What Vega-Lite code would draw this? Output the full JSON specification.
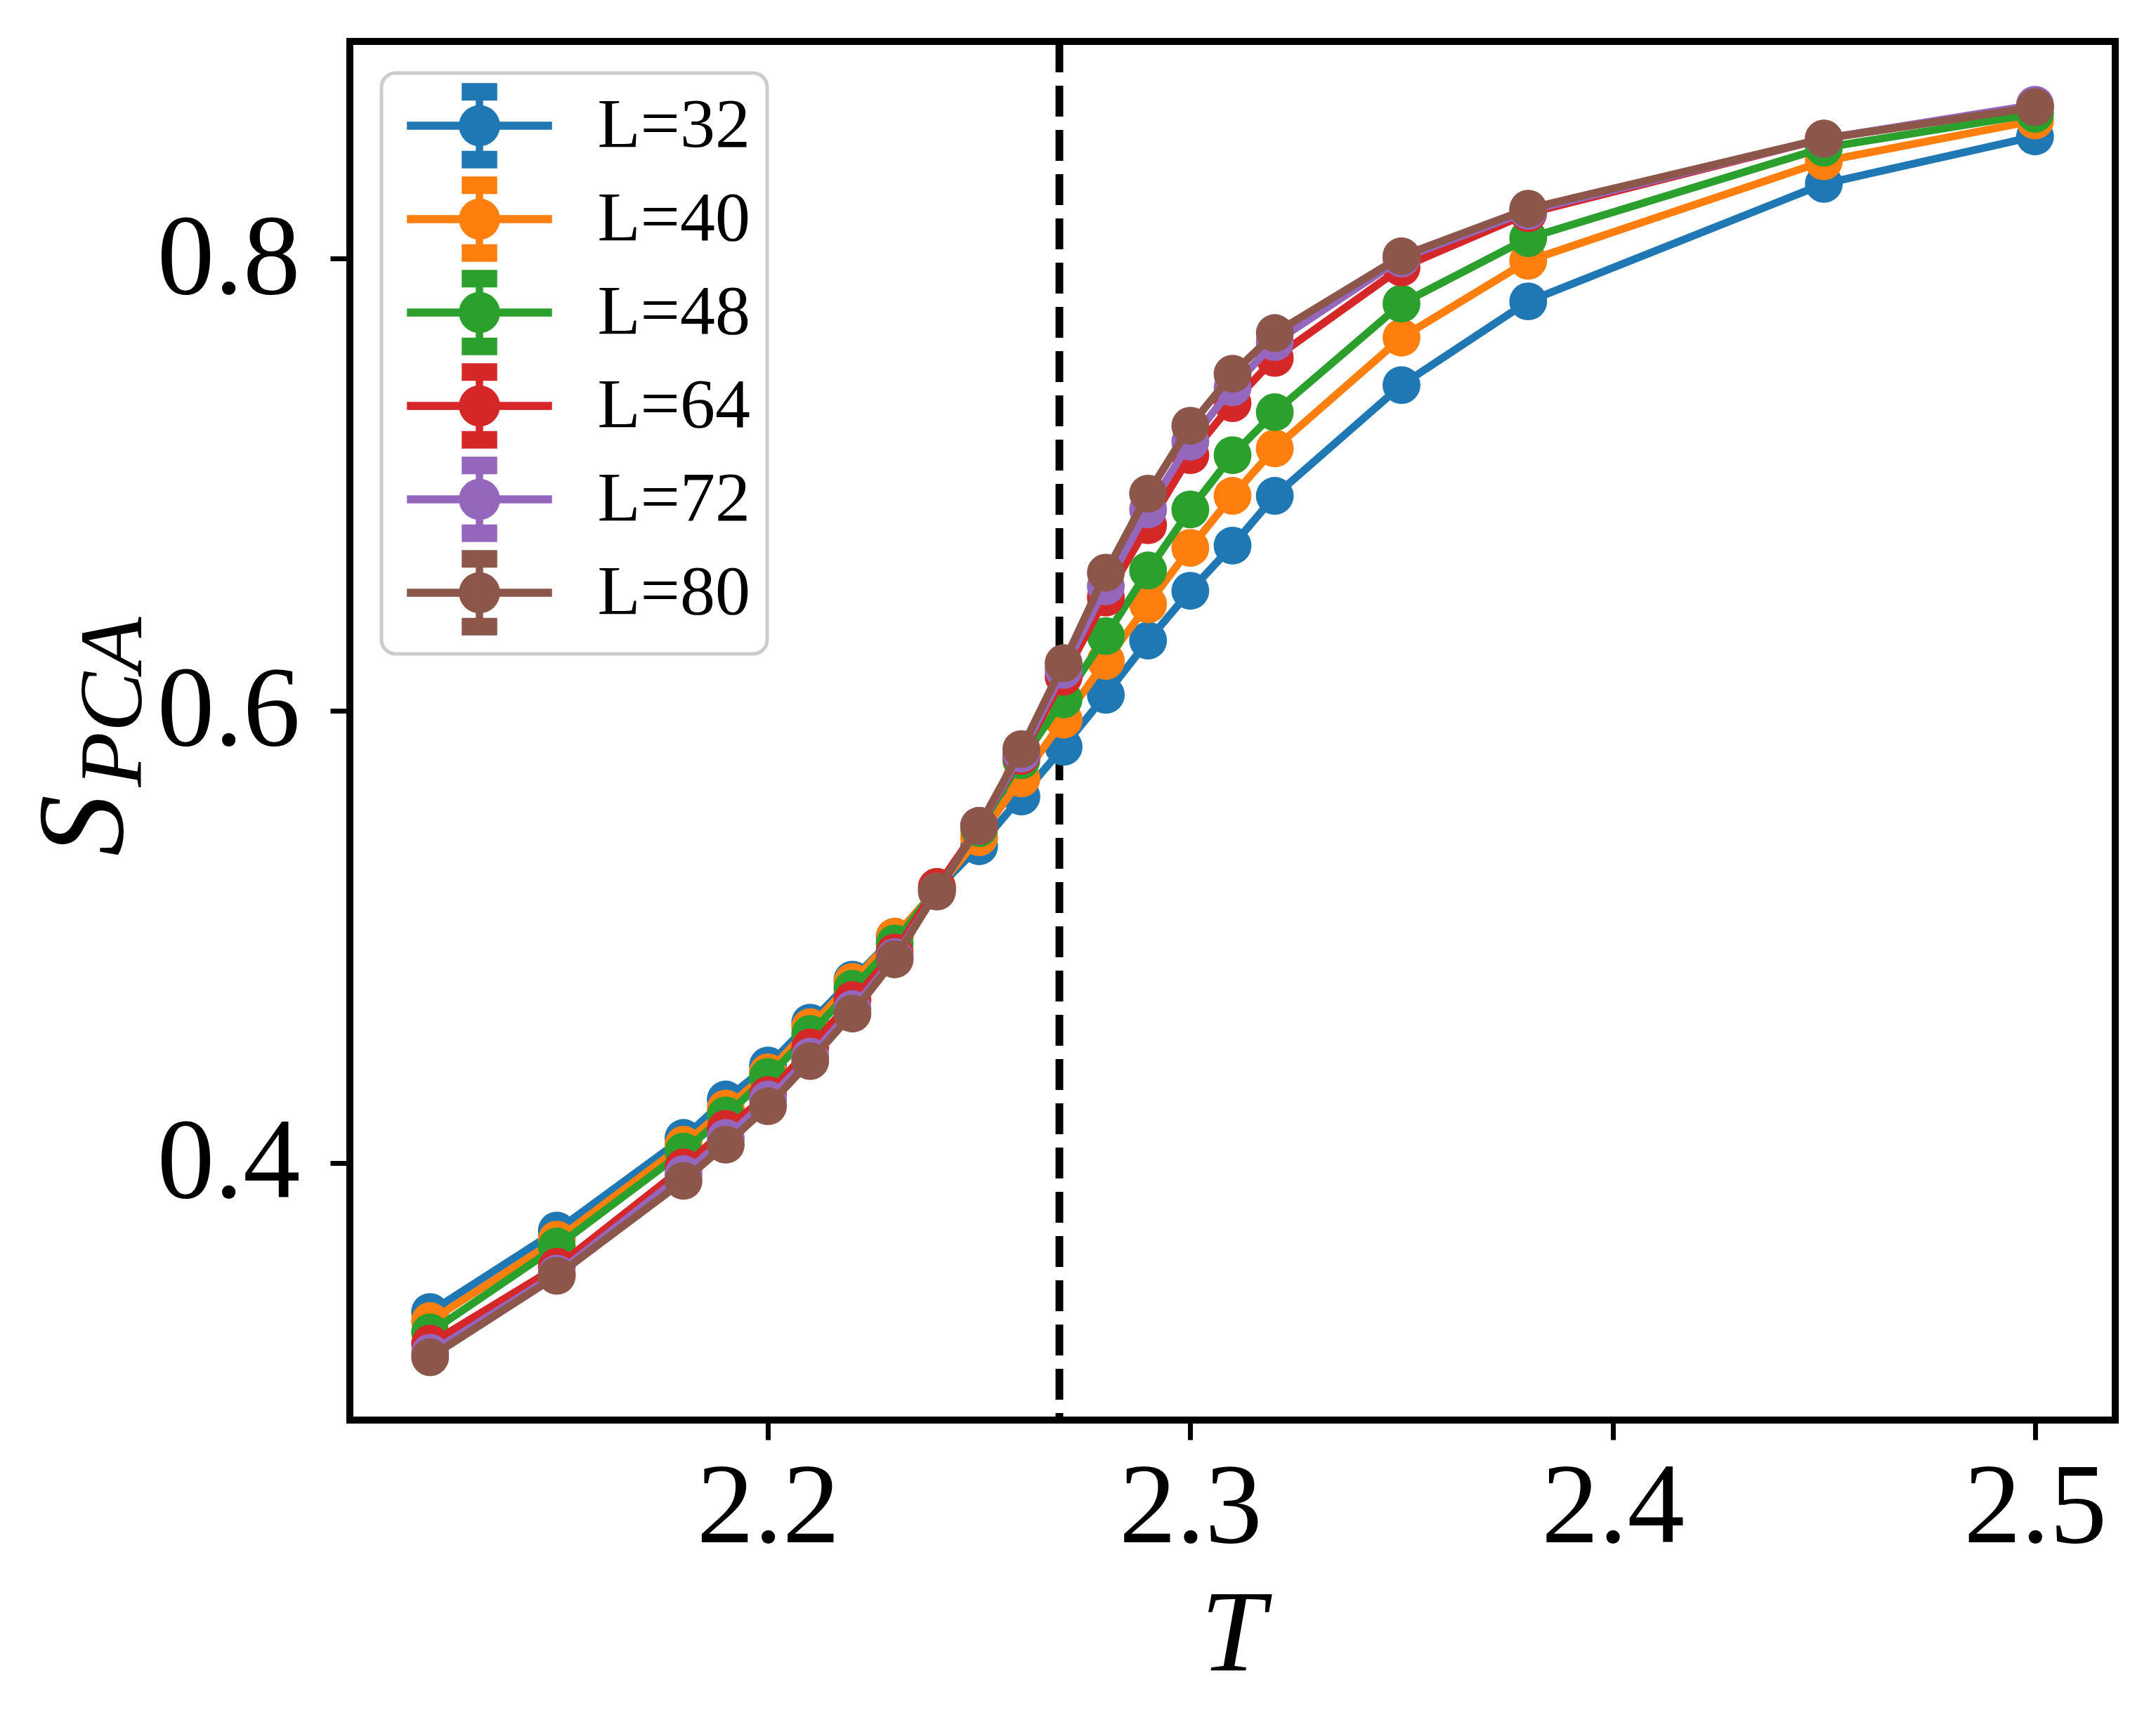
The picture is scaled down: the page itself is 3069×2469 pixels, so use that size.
{
  "$schema": "https://vega.github.io/schema/vega-lite/v6.json",
  "width": 2513,
  "height": 1963,
  "autosize": {"type": "none"},
  "padding": {"left": 498, "top": 59, "right": 58, "bottom": 447},
  "background": "white",
  "data": {
    "values": [
      {"T": 2.12, "L": "L=32", "S": 0.334}, {"T": 2.15, "L": "L=32", "S": 0.370}, {"T": 2.18, "L": "L=32", "S": 0.411},
      {"T": 2.19, "L": "L=32", "S": 0.428}, {"T": 2.20, "L": "L=32", "S": 0.443}, {"T": 2.21, "L": "L=32", "S": 0.462},
      {"T": 2.22, "L": "L=32", "S": 0.481}, {"T": 2.23, "L": "L=32", "S": 0.500}, {"T": 2.24, "L": "L=32", "S": 0.521},
      {"T": 2.25, "L": "L=32", "S": 0.540}, {"T": 2.26, "L": "L=32", "S": 0.562}, {"T": 2.27, "L": "L=32", "S": 0.584},
      {"T": 2.28, "L": "L=32", "S": 0.607}, {"T": 2.29, "L": "L=32", "S": 0.631}, {"T": 2.30, "L": "L=32", "S": 0.653},
      {"T": 2.31, "L": "L=32", "S": 0.673}, {"T": 2.32, "L": "L=32", "S": 0.695}, {"T": 2.35, "L": "L=32", "S": 0.744},
      {"T": 2.38, "L": "L=32", "S": 0.781}, {"T": 2.45, "L": "L=32", "S": 0.833}, {"T": 2.50, "L": "L=32", "S": 0.854},

      {"T": 2.12, "L": "L=40", "S": 0.330}, {"T": 2.15, "L": "L=40", "S": 0.366}, {"T": 2.18, "L": "L=40", "S": 0.408},
      {"T": 2.19, "L": "L=40", "S": 0.424}, {"T": 2.20, "L": "L=40", "S": 0.440}, {"T": 2.21, "L": "L=40", "S": 0.460},
      {"T": 2.22, "L": "L=40", "S": 0.480}, {"T": 2.23, "L": "L=40", "S": 0.500}, {"T": 2.24, "L": "L=40", "S": 0.521},
      {"T": 2.25, "L": "L=40", "S": 0.544}, {"T": 2.26, "L": "L=40", "S": 0.570}, {"T": 2.27, "L": "L=40", "S": 0.596},
      {"T": 2.28, "L": "L=40", "S": 0.622}, {"T": 2.29, "L": "L=40", "S": 0.647}, {"T": 2.30, "L": "L=40", "S": 0.672},
      {"T": 2.31, "L": "L=40", "S": 0.695}, {"T": 2.32, "L": "L=40", "S": 0.716}, {"T": 2.35, "L": "L=40", "S": 0.765},
      {"T": 2.38, "L": "L=40", "S": 0.799}, {"T": 2.45, "L": "L=40", "S": 0.843}, {"T": 2.50, "L": "L=40", "S": 0.861},

      {"T": 2.12, "L": "L=48", "S": 0.325}, {"T": 2.15, "L": "L=48", "S": 0.363}, {"T": 2.18, "L": "L=48", "S": 0.405},
      {"T": 2.19, "L": "L=48", "S": 0.421}, {"T": 2.20, "L": "L=48", "S": 0.438}, {"T": 2.21, "L": "L=48", "S": 0.457},
      {"T": 2.22, "L": "L=48", "S": 0.477}, {"T": 2.23, "L": "L=48", "S": 0.497}, {"T": 2.24, "L": "L=48", "S": 0.522},
      {"T": 2.25, "L": "L=48", "S": 0.548}, {"T": 2.26, "L": "L=48", "S": 0.578}, {"T": 2.27, "L": "L=48", "S": 0.605},
      {"T": 2.28, "L": "L=48", "S": 0.633}, {"T": 2.29, "L": "L=48", "S": 0.662}, {"T": 2.30, "L": "L=48", "S": 0.689},
      {"T": 2.31, "L": "L=48", "S": 0.713}, {"T": 2.32, "L": "L=48", "S": 0.732}, {"T": 2.35, "L": "L=48", "S": 0.780},
      {"T": 2.38, "L": "L=48", "S": 0.809}, {"T": 2.45, "L": "L=48", "S": 0.849}, {"T": 2.50, "L": "L=48", "S": 0.864},

      {"T": 2.12, "L": "L=64", "S": 0.320}, {"T": 2.15, "L": "L=64", "S": 0.354}, {"T": 2.18, "L": "L=64", "S": 0.398},
      {"T": 2.19, "L": "L=64", "S": 0.415}, {"T": 2.20, "L": "L=64", "S": 0.430}, {"T": 2.21, "L": "L=64", "S": 0.451},
      {"T": 2.22, "L": "L=64", "S": 0.472}, {"T": 2.23, "L": "L=64", "S": 0.493}, {"T": 2.24, "L": "L=64", "S": 0.522},
      {"T": 2.25, "L": "L=64", "S": 0.549}, {"T": 2.26, "L": "L=64", "S": 0.580}, {"T": 2.27, "L": "L=64", "S": 0.615},
      {"T": 2.28, "L": "L=64", "S": 0.650}, {"T": 2.29, "L": "L=64", "S": 0.682}, {"T": 2.30, "L": "L=64", "S": 0.713},
      {"T": 2.31, "L": "L=64", "S": 0.736}, {"T": 2.32, "L": "L=64", "S": 0.756}, {"T": 2.35, "L": "L=64", "S": 0.796},
      {"T": 2.38, "L": "L=64", "S": 0.820}, {"T": 2.45, "L": "L=64", "S": 0.853}, {"T": 2.50, "L": "L=64", "S": 0.867},

      {"T": 2.12, "L": "L=72", "S": 0.316}, {"T": 2.15, "L": "L=72", "S": 0.351}, {"T": 2.18, "L": "L=72", "S": 0.395},
      {"T": 2.19, "L": "L=72", "S": 0.411}, {"T": 2.20, "L": "L=72", "S": 0.428}, {"T": 2.21, "L": "L=72", "S": 0.447},
      {"T": 2.22, "L": "L=72", "S": 0.468}, {"T": 2.23, "L": "L=72", "S": 0.491}, {"T": 2.24, "L": "L=72", "S": 0.520},
      {"T": 2.25, "L": "L=72", "S": 0.549}, {"T": 2.26, "L": "L=72", "S": 0.581}, {"T": 2.27, "L": "L=72", "S": 0.618},
      {"T": 2.28, "L": "L=72", "S": 0.655}, {"T": 2.29, "L": "L=72", "S": 0.689}, {"T": 2.30, "L": "L=72", "S": 0.719},
      {"T": 2.31, "L": "L=72", "S": 0.743}, {"T": 2.32, "L": "L=72", "S": 0.763}, {"T": 2.35, "L": "L=72", "S": 0.800},
      {"T": 2.38, "L": "L=72", "S": 0.821}, {"T": 2.45, "L": "L=72", "S": 0.853}, {"T": 2.50, "L": "L=72", "S": 0.868},

      {"T": 2.12, "L": "L=80", "S": 0.314}, {"T": 2.15, "L": "L=80", "S": 0.350}, {"T": 2.18, "L": "L=80", "S": 0.392},
      {"T": 2.19, "L": "L=80", "S": 0.408}, {"T": 2.20, "L": "L=80", "S": 0.425}, {"T": 2.21, "L": "L=80", "S": 0.445},
      {"T": 2.22, "L": "L=80", "S": 0.466}, {"T": 2.23, "L": "L=80", "S": 0.490}, {"T": 2.24, "L": "L=80", "S": 0.520},
      {"T": 2.25, "L": "L=80", "S": 0.549}, {"T": 2.26, "L": "L=80", "S": 0.583}, {"T": 2.27, "L": "L=80", "S": 0.621},
      {"T": 2.28, "L": "L=80", "S": 0.661}, {"T": 2.29, "L": "L=80", "S": 0.696}, {"T": 2.30, "L": "L=80", "S": 0.726},
      {"T": 2.31, "L": "L=80", "S": 0.749}, {"T": 2.32, "L": "L=80", "S": 0.767}, {"T": 2.35, "L": "L=80", "S": 0.801},
      {"T": 2.38, "L": "L=80", "S": 0.822}, {"T": 2.45, "L": "L=80", "S": 0.853}, {"T": 2.50, "L": "L=80", "S": 0.867}
    ]
  },
  "encoding": {
    "x": {
      "field": "T", "type": "quantitative",
      "scale": {"domain": [2.101, 2.519], "nice": false, "zero": false},
      "axis": {
        "title": "T", "values": [2.2, 2.3, 2.4, 2.5], "format": ".1f",
        "titleFontStyle": "italic", "titleFontSize": 165, "titleY": 355, "titleBaseline": "alphabetic",
        "labelFontSize": 163, "labelPadding": 16
      }
    },
    "color": {
      "field": "L", "type": "nominal",
      "scale": {
        "domain": ["L=32", "L=40", "L=48", "L=64", "L=72", "L=80"],
        "range": ["#1f77b4", "#ff7f0e", "#2ca02c", "#d62728", "#9467bd", "#8c564b"]
      },
      "legend": {
        "title": null, "orient": "top-left", "offset": 45, "padding": 24,
        "symbolType": "M-2.05,-0.1L2.05,-0.1L2.05,0.1L-2.05,0.1Z M-0.09,-1.2L0.09,-1.2L0.09,1.2L-0.09,1.2Z M-0.49,-1.2L0.49,-1.2L0.49,-0.73L-0.49,-0.73Z M-0.49,0.73L0.49,0.73L0.49,1.2L-0.49,1.2Z M0.57,0A0.57,0.57,0,1,1,-0.57,0A0.57,0.57,0,1,1,0.57,0Z",
        "symbolSize": 10000, "symbolOffset": 64.5, "labelOffset": 117,
        "labelFontSize": 100, "labelLimit": 1000, "rowPadding": 7,
        "strokeColor": "#cccccc", "cornerRadius": 20, "fillColor": "rgba(255,255,255,0.8)",
        "encode": {
          "legend": {
            "update": {"strokeWidth": {"value": 5}}
          },
          "symbols": {
            "update": {
              "fill": {"scale": "color", "field": "value"},
              "stroke": {"value": "transparent"},
              "opacity": {"value": 1}
            }
          }
        }
      }
    }
  },
  "layer": [
    {
      "data": {"values": [{"T": 2.269}]},
      "mark": {"type": "rule", "color": "black", "strokeWidth": 11, "strokeDash": [44, 19]},
      "encoding": {"color": {"value": "black"}}
    },
    {
      "transform": [{"filter": "datum.L === 'L=32'"}],
      "mark": {"type": "line", "strokeWidth": 11, "point": {"filled": true, "size": 2900, "opacity": 1}},
      "encoding": {
        "y": {
          "field": "S", "type": "quantitative",
          "scale": {"domain": [0.2862, 0.896], "nice": false, "zero": false},
          "axis": {
            "orient": "left", "values": [0.4, 0.6, 0.8], "format": ".1f",
            "labelFontSize": 163, "labelPadding": 43,
            "title": "S", "titleFontStyle": "italic", "titleFontSize": 175,
            "titleAngle": 270, "titleAlign": "center", "titleBaseline": "alphabetic",
            "titleX": -325, "titleY": 1116
          }
        }
      }
    },
    {
      "transform": [{"filter": "datum.L === 'L=40'"}],
      "mark": {"type": "line", "strokeWidth": 11, "point": {"filled": true, "size": 2900, "opacity": 1}},
      "encoding": {
        "y": {
          "field": "S", "type": "quantitative",
          "scale": {"domain": [0.2862, 0.896], "nice": false, "zero": false},
          "axis": {
            "orient": "left", "labels": false, "ticks": false, "domain": false, "grid": false,
            "title": "PCA", "titleFontStyle": "italic", "titleFontSize": 128,
            "titleAngle": 270, "titleAlign": "center", "titleBaseline": "alphabetic",
            "titleX": -298, "titleY": 940
          }
        }
      }
    },
    {
      "transform": [{"filter": "datum.L === 'L=48'"}],
      "mark": {"type": "line", "strokeWidth": 11, "point": {"filled": true, "size": 2900, "opacity": 1}},
      "encoding": {
        "y": {"field": "S", "type": "quantitative", "scale": {"domain": [0.2862, 0.896], "nice": false, "zero": false}, "axis": null}
      }
    },
    {
      "transform": [{"filter": "datum.L === 'L=64'"}],
      "mark": {"type": "line", "strokeWidth": 11, "point": {"filled": true, "size": 2900, "opacity": 1}},
      "encoding": {
        "y": {"field": "S", "type": "quantitative", "scale": {"domain": [0.2862, 0.896], "nice": false, "zero": false}, "axis": null}
      }
    },
    {
      "transform": [{"filter": "datum.L === 'L=72'"}],
      "mark": {"type": "line", "strokeWidth": 11, "point": {"filled": true, "size": 2900, "opacity": 1}},
      "encoding": {
        "y": {"field": "S", "type": "quantitative", "scale": {"domain": [0.2862, 0.896], "nice": false, "zero": false}, "axis": null}
      }
    },
    {
      "transform": [{"filter": "datum.L === 'L=80'"}],
      "mark": {"type": "line", "strokeWidth": 11, "point": {"filled": true, "size": 2900, "opacity": 1}},
      "encoding": {
        "y": {"field": "S", "type": "quantitative", "scale": {"domain": [0.2862, 0.896], "nice": false, "zero": false}, "axis": null}
      }
    }
  ],
  "resolve": {"axis": {"y": "independent"}},
  "config": {
    "font": "Liberation Serif",
    "view": {"stroke": "black", "strokeWidth": 10},
    "axis": {
      "grid": false, "domain": false,
      "tickSize": 28, "tickWidth": 7, "tickColor": "black",
      "labelFont": "Liberation Serif", "labelColor": "black", "labelOverlap": false, "labelLimit": 1000,
      "titleFont": "Liberation Serif", "titleColor": "black", "titleFontWeight": "normal"
    },
    "legend": {"labelFont": "Liberation Serif", "labelColor": "black"}
  }
}
